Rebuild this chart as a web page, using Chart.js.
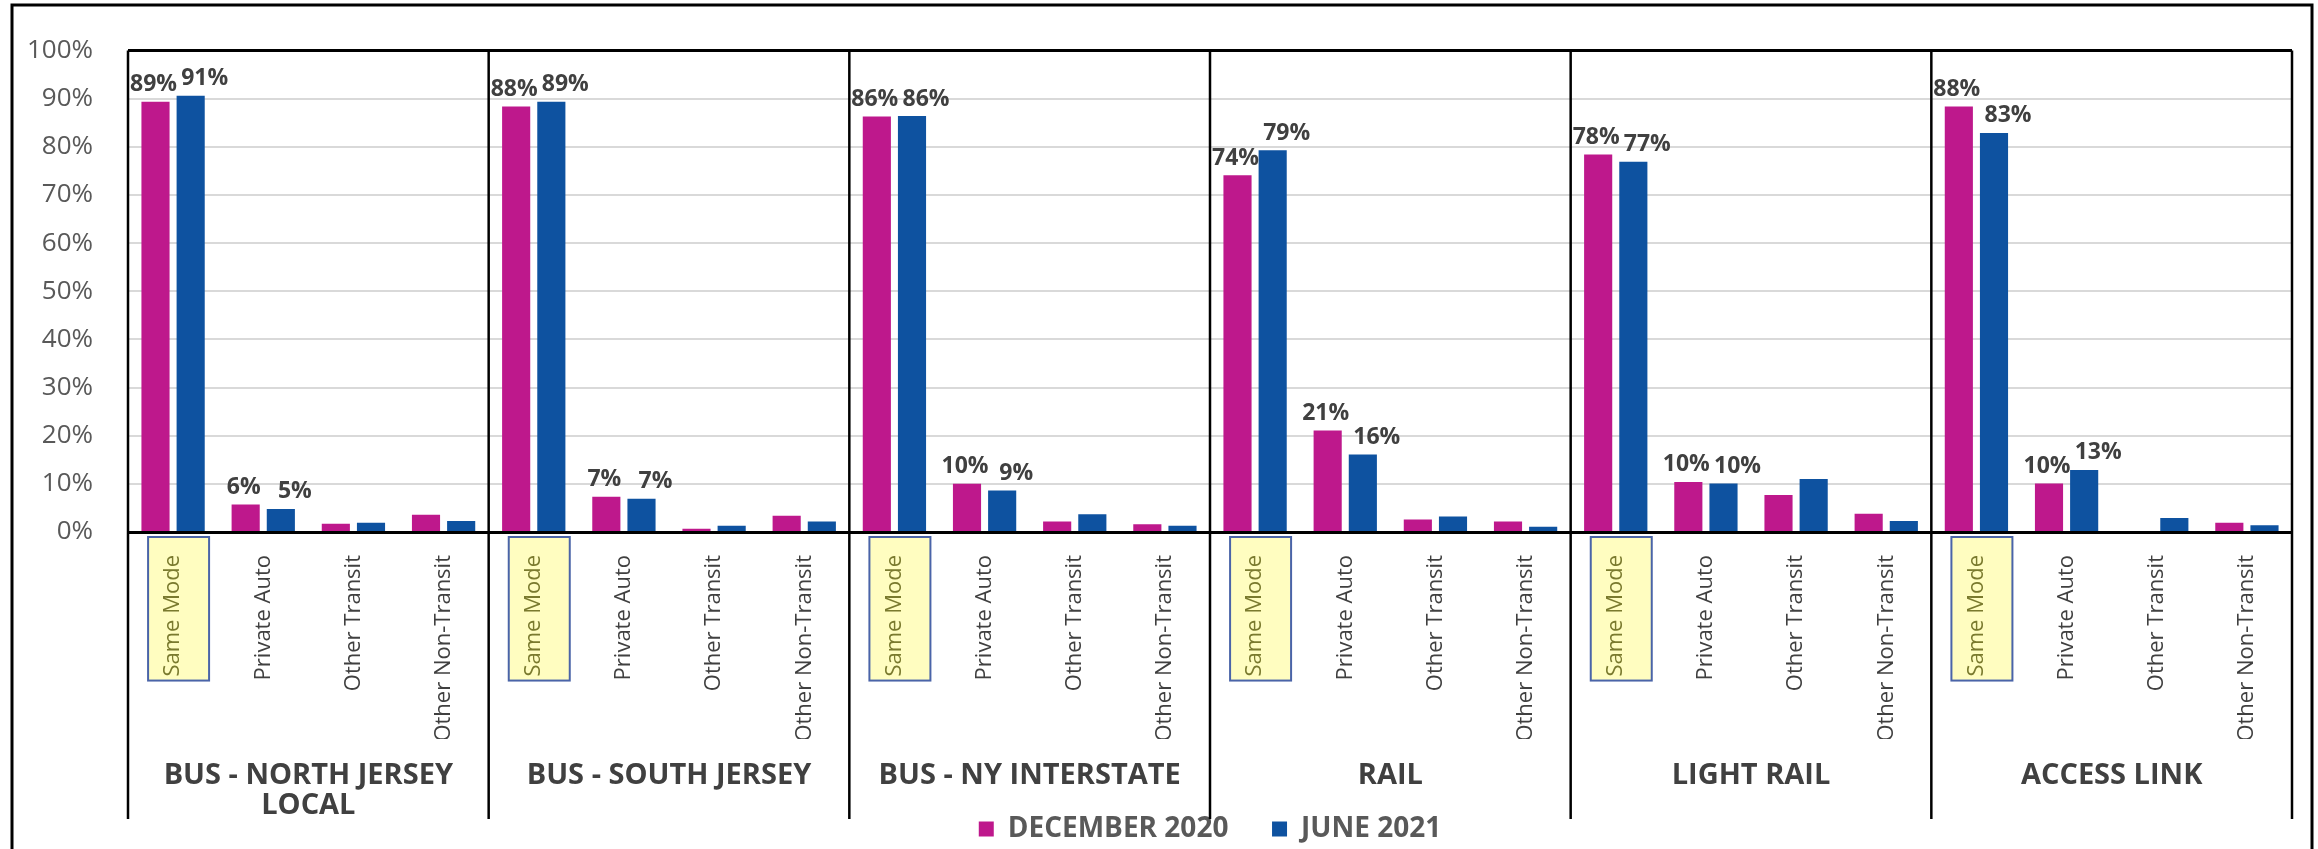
<!DOCTYPE html>
<html>
<head>
<meta charset="utf-8">
<script src="https://cdn.jsdelivr.net/npm/chart.js@4.4.1/dist/chart.umd.min.js"></script>
<style>
  html, body { margin: 0; padding: 0; background: #fff; }
  #wrap { width: 2318px; height: 849px; }
</style>
</head>
<body>
<div id="wrap"><canvas id="chart" width="2318" height="849"></canvas></div>
<script>
const groups = [['BUS - NORTH JERSEY', 'LOCAL'], 'BUS - SOUTH JERSEY', 'BUS - NY INTERSTATE', 'RAIL', 'LIGHT RAIL', 'ACCESS LINK'];
const modes = ['Same Mode', 'Private Auto', 'Other Transit', 'Other Non-Transit'];
const seriesNames = ['DECEMBER 2020', 'JUNE 2021'];
// one value per mode, groups in order
const dec2020 = [89.4, 5.7, 1.7, 3.6,  88.4, 7.3, 0.7, 3.4,  86.3, 10.0, 2.2, 1.6,  74.1, 21.1, 2.6, 2.2,  78.4, 10.4, 7.7, 3.8,  88.4, 10.1, 0, 1.9];
const jun2021 = [90.6, 4.8, 1.9, 2.3,  89.4, 6.9, 1.3, 2.2,  86.4, 8.6, 3.7, 1.3,  79.3, 16.1, 3.2, 1.1,  76.9, 10.1, 11.0, 2.3,  82.9, 12.9, 2.9, 1.4];
const labelledModes = ['Same Mode', 'Private Auto'];

const categories = groups.flatMap(() => modes);

const FONT = "'Open Sans', 'DejaVu Sans', sans-serif";

// outer frame of the picture
const framePlugin = {
    id: 'frame',
    afterDraw(chart) {
        const ctx = chart.ctx;
        ctx.save();
        ctx.strokeStyle = '#000';
        ctx.lineWidth = 3;
        ctx.strokeRect(12, 5, 2300, 900);
        ctx.restore();
    }
};

// yellow box behind the "Same Mode" ticks
const sameModeBox = {
    id: 'sameModeBox',
    beforeDraw(chart) {
        const x = chart.scales.x;
        const ctx = chart.ctx;
        ctx.save();
        ctx.font = '22px ' + FONT;
        const w = ctx.measureText('Same Mode').width;
        categories.forEach((c, i) => {
            if (c !== 'Same Mode') return;
            const px = x.getPixelForTick(i);
            const top = chart.chartArea.bottom + 5;
            const bottom = chart.chartArea.bottom + 15 + w + 12;
            ctx.fillStyle = '#FFFDC0';
            ctx.fillRect(px - 25, top, 61, bottom - top);
            ctx.strokeStyle = '#4A64A8';
            ctx.lineWidth = 2;
            ctx.strokeRect(px - 25, top, 61, bottom - top);
        });
        ctx.restore();
    }
};

// group separators
const separators = {
    id: 'separators',
    afterDraw(chart) {
        const x = chart.scales.x;
        const area = chart.chartArea;
        const bottom = chart.scales.xGroup.bottom + 4;
        const ctx = chart.ctx;
        const xs = [area.left, area.right];
        for (let g = 1; g < groups.length; g++) {
            const i = g * modes.length;
            xs.push((x.getPixelForValue(i - 1) + x.getPixelForValue(i)) / 2);
        }
        ctx.save();
        ctx.strokeStyle = '#000';
        ctx.lineWidth = 2.5;
        xs.forEach(px => {
            ctx.beginPath();
            ctx.moveTo(px, area.top);
            ctx.lineTo(px, bottom);
            ctx.stroke();
        });
        ctx.restore();
    }
};

// value labels on the first two modes
const valueLabels = {
    id: 'valueLabels',
    afterDatasetsDraw(chart) {
        const ctx = chart.ctx;
        ctx.save();
        ctx.font = 'bold 23px ' + FONT;
        ctx.fillStyle = '#404040';
        ctx.textAlign = 'center';
        ctx.textBaseline = 'middle';
        chart.data.datasets.forEach((ds, d) => {
            const meta = chart.getDatasetMeta(d);
            const dx = d === 0 ? -2 : 14;
            meta.data.forEach((bar, i) => {
                if (!labelledModes.includes(categories[i])) return;
                ctx.fillText(Math.round(ds.data[i]) + '%', bar.x + dx, bar.y - 17);
            });
        });
        ctx.restore();
    }
};

new Chart(document.getElementById('chart'), {
    type: 'bar',
    data: {
        labels: categories,
        datasets: [
            {
                label: seriesNames[0],
                data: dec2020,
                backgroundColor: '#BE188C',
                barPercentage: 0.8,
                categoryPercentage: 0.78
            },
            {
                label: seriesNames[1],
                data: jun2021,
                backgroundColor: '#0E52A0',
                barPercentage: 0.8,
                categoryPercentage: 0.78
            }
        ]
    },
    options: {
        responsive: false,
        animation: false,
        devicePixelRatio: 1,
        layout: {
            padding: { top: 22, right: 26, left: 0, bottom: -4 }
        },
        plugins: {
            legend: {
                position: 'bottom',
                fullSize: false,
                labels: {
                    boxWidth: 15,
                    boxHeight: 15,
                    padding: 0,
                    color: '#595959',
                    font: { family: FONT, size: 28, weight: 'bold' },
                    generateLabels(chart) {
                        const items = Chart.defaults.plugins.legend.labels.generateLabels(chart);
                        items[0].text += '      ';
                        return items;
                    }
                }
            },
            tooltip: { enabled: false }
        },
        scales: {
            x: {
                grid: { display: false },
                border: { display: true, color: '#000', width: 3 },
                ticks: {
                    autoSkip: false,
                    minRotation: 90,
                    maxRotation: 90,
                    padding: 15,
                    font: { family: FONT, size: 22 },
                    color: (c) => categories[c.index] === 'Same Mode' ? '#7A7A2E' : '#404040'
                },
                afterFit(scale) { scale.height = 207; }
            },
            xGroup: {
                type: 'category',
                position: 'bottom',
                labels: groups,
                offset: true,
                grid: { display: false },
                border: { display: false },
                ticks: {
                    padding: 14,
                    font: { family: FONT, size: 29, weight: 'bold', lineHeight: 1.02 },
                    color: '#404040'
                },
                afterFit(scale) { scale.height = 76; }
            },
            y: {
                min: 0,
                max: 100,
                border: { display: false },
                grid: {
                    drawTicks: false,
                    color: (c) => c.tick.value === 100 ? '#000' : (c.tick.value === 0 ? 'rgba(0,0,0,0)' : '#D9D9D9'),
                    lineWidth: (c) => c.tick.value === 100 ? 3 : 2
                },
                ticks: {
                    stepSize: 10,
                    padding: 35,
                    color: '#595959',
                    font: { family: FONT, size: 26 },
                    callback: (v) => v + '%'
                },
                afterFit(scale) { scale.width = 128; }
            }
        }
    },
    plugins: [sameModeBox, separators, valueLabels, framePlugin]
});
</script>
</body>
</html>
